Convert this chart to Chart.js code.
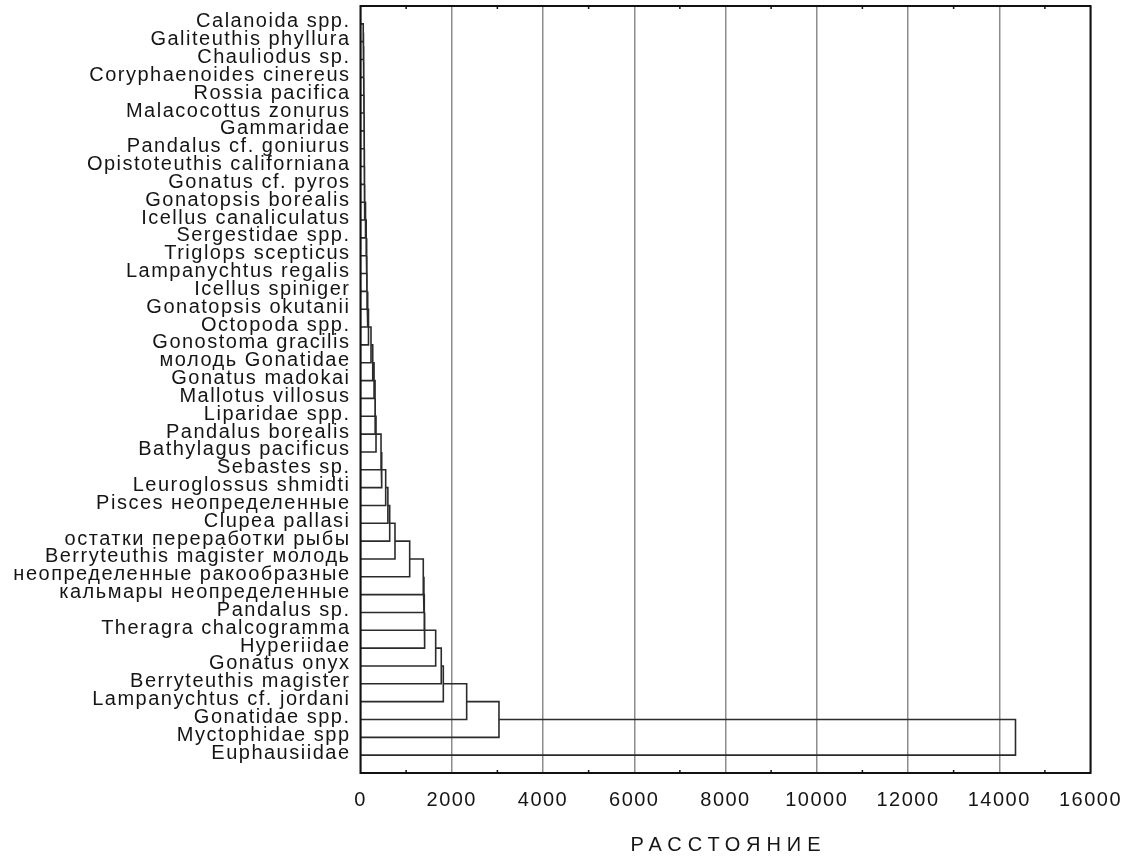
<!DOCTYPE html>
<html>
<head>
<meta charset="utf-8">
<script src="https://cdn.jsdelivr.net/npm/chart.js@4.4.1/dist/chart.umd.min.js"></script>
<style>
  html, body { margin: 0; padding: 0; background: #fff; }
  #wrap { width: 1129px; height: 859px; }
</style>
</head>
<body>
<div id="wrap"><canvas id="tree" width="1129" height="859"></canvas></div>
<script>
// leaves of the tree diagram, top to bottom
const species = [
  'Calanoida spp.', 'Galiteuthis phyllura', 'Chauliodus sp.', 'Coryphaenoides cinereus',
  'Rossia pacifica', 'Malacocottus zonurus', 'Gammaridae', 'Pandalus cf. goniurus',
  'Opistoteuthis californiana', 'Gonatus cf. pyros', 'Gonatopsis borealis', 'Icellus canaliculatus',
  'Sergestidae spp.', 'Triglops scepticus', 'Lampanychtus regalis', 'Icellus spiniger',
  'Gonatopsis okutanii', 'Octopoda spp.', 'Gonostoma gracilis', 'молодь Gonatidae',
  'Gonatus madokai', 'Mallotus villosus', 'Liparidae spp.', 'Pandalus borealis',
  'Bathylagus pacificus', 'Sebastes sp.', 'Leuroglossus shmidti', 'Pisces неопределенные',
  'Clupea pallasi', 'остатки переработки рыбы', 'Berryteuthis magister молодь', 'неопределенные ракообразные',
  'кальмары неопределенные', 'Pandalus sp.', 'Theragra chalcogramma', 'Hyperiidae',
  'Gonatus onyx', 'Berryteuthis magister', 'Lampanychtus cf. jordani', 'Gonatidae spp.',
  'Myctophidae spp', 'Euphausiidae'
];

// distance at which each leaf (from the 2nd on) joins the cluster above it
const joinDistance = [
  60, 65, 70, 72, 75, 78, 80, 82, 85, 88,
  92, 110, 125, 135, 140, 143, 158, 175, 230, 268,
  297, 319, 322, 340, 450, 465, 552, 600, 640, 756,
  1078, 1376, 1390, 1398, 1406, 1648, 1770, 1815, 2327, 3035,
  14356
];

const xTicks = [0, 2000, 4000, 6000, 8000, 10000, 12000, 14000, 16000];
const xTitle = 'РАССТОЯНИЕ';

// chain the merges into polylines: cluster line -> vertical -> leaf line
function treeLines() {
  const pts = [];
  let cy = 1, ch = 0;
  for (let k = 2; k <= species.length; k++) {
    const h = joinDistance[k - 2];
    pts.push({x: ch, y: cy}, {x: h, y: cy}, {x: h, y: k}, {x: 0, y: k}, {x: null, y: null});
    cy = (cy + k) / 2;
    ch = h;
  }
  return pts;
}

const spacing = {
  id: 'spacing',
  beforeLayout(chart) { chart.ctx.letterSpacing = '1.5px'; },
  beforeDraw(chart) { chart.ctx.letterSpacing = '1.5px'; }
};

const frame = {
  id: 'frame',
  afterDraw(chart) {
    const {ctx, chartArea: a, scales: {x}} = chart;
    ctx.save();
    ctx.strokeStyle = '#111';
    ctx.lineWidth = 2;
    ctx.strokeRect(a.left, a.top, a.right - a.left, a.bottom - a.top);
    ctx.lineWidth = 1.5;
    ctx.beginPath();
    for (let v = 1000; v < 16000; v += 2000) {
      const px = x.getPixelForValue(v);
      ctx.moveTo(px, a.top); ctx.lineTo(px, a.top + 3);
      ctx.moveTo(px, a.bottom); ctx.lineTo(px, a.bottom - 3);
    }
    ctx.stroke();
    // axis title, spaced out like the original
    ctx.letterSpacing = '6px';
    ctx.font = '20px "Liberation Sans", Arial';
    ctx.fillStyle = '#151515';
    ctx.textAlign = 'center';
    ctx.textBaseline = 'middle';
    ctx.fillText(xTitle, (a.left + a.right) / 2 + 3, 845);
    ctx.restore();
  }
};

new Chart(document.getElementById('tree'), {
  type: 'scatter',
  data: {
    datasets: [{
      data: treeLines(),
      showLine: true,
      spanGaps: false,
      borderColor: '#2b2b2b',
      borderWidth: 1.6,
      pointRadius: 0,
      borderJoinStyle: 'miter'
    }]
  },
  options: {
    responsive: false,
    animation: false,
    layout: { padding: { top: 6, right: 38.5, left: 0, bottom: 0 } },
    plugins: { legend: { display: false }, tooltip: { enabled: false } },
    scales: {
      x: {
        type: 'linear',
        min: 0, max: 16000,
        afterBuildTicks: s => { s.ticks = xTicks.map(v => ({value: v})); },
        afterFit: s => { s.height = 86; s.paddingLeft = 0; s.paddingRight = 0; },
        grid: { color: '#8c8c8c', lineWidth: 1.5, drawTicks: false },
        border: { display: false },
        ticks: {
          padding: 15, color: '#151515',
          font: { family: 'Liberation Sans, Arial', size: 20 },
          callback: v => String(v)
        }
      },
      y: {
        type: 'linear',
        reverse: true,
        min: 0, max: 43,
        afterFit: s => { s.width = 360.5; s.paddingTop = 0; s.paddingBottom = 0; },
        grid: { display: false },
        border: { display: false },
        ticks: {
          stepSize: 1, autoSkip: false, padding: 2, labelOffset: -2,
          color: '#151515',
          font: { family: 'Liberation Sans, Arial', size: 20 },
          callback: v => species[v - 1] || ''
        }
      }
    }
  },
  plugins: [spacing, frame]
});
</script>
</body>
</html>
